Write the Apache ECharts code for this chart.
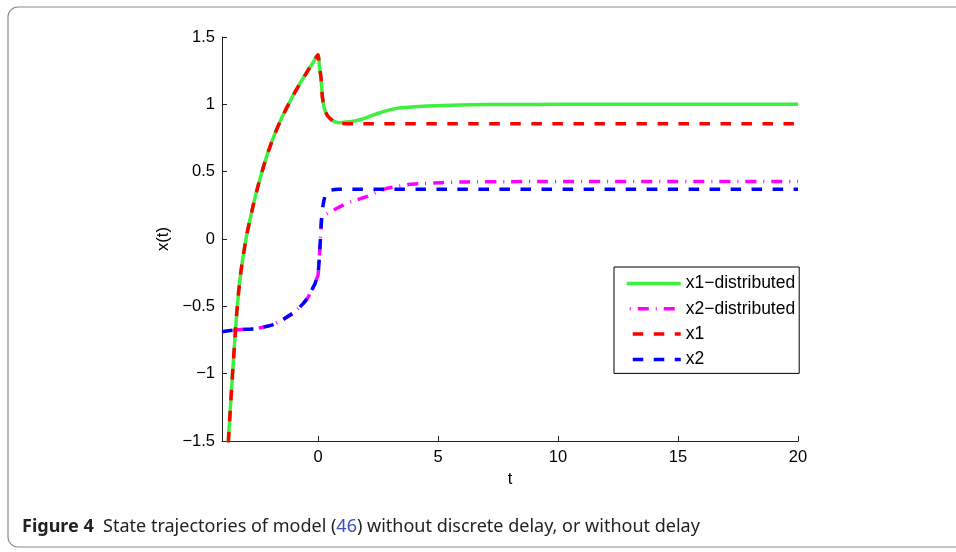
<!DOCTYPE html>
<html>
<head>
<meta charset="utf-8">
<script src="https://cdn.jsdelivr.net/npm/echarts@6/dist/echarts.min.js"></script>
<style>
  html, body { margin: 0; padding: 0; background: #fff; }
  #chart { width: 956px; height: 552px; }
</style>
</head>
<body>
<div id="chart"></div>
<script>
// State trajectories: time samples and values for each state component
const seriesNames = ['x1\u2212distributed', 'x2\u2212distributed', 'x1', 'x2'];

// x1 with distributed delay (solid green)
const tX1dist = [-4, -3.85, -3.74, -3.67, -3.6, -3.53, -3.46, -3.39, -3.3, -3.18, -3.0, -2.9, -2.7, -2.49, -2.25, -2.07, -1.8, -1.51, -1.2, -0.96, -0.7, -0.4, -0.2, 0, 0.06, 0.125, 0.18, 0.24, 0.29, 0.38, 0.5, 0.65, 0.85, 1.0, 1.3, 1.6, 2.0, 2.45, 2.9, 3.28, 3.9, 4.53, 5.2, 5.92, 7, 8, 10, 20];
const vX1dist = [-2.6, -1.9, -1.52, -1.31, -1.11, -0.92, -0.73, -0.56, -0.38, -0.2, 0, 0.09, 0.25, 0.4, 0.55, 0.65, 0.78, 0.9, 1.01, 1.09, 1.17, 1.257, 1.312, 1.368, 1.28, 1.2, 1.06, 0.99, 0.955, 0.92, 0.895, 0.875, 0.864, 0.865, 0.87, 0.879, 0.9, 0.93, 0.955, 0.97, 0.98, 0.987, 0.992, 0.995, 0.998, 0.999, 1.0, 1.0];

// x2 with distributed delay (magenta dash-dot)
const tX2dist = [-4, -3.46, -3.0, -2.63, -2.3, -1.93, -1.65, -1.375, -0.96, -0.61, -0.4, -0.26, -0.12, -0.05, 0, 0.05, 0.1, 0.15, 0.2, 0.36, 0.6, 1.05, 1.5, 2.03, 2.4, 2.86, 3.3, 3.83, 4.4, 5.08, 6.2, 8, 20];
const vX2dist = [-0.688, -0.676, -0.67, -0.668, -0.655, -0.639, -0.617, -0.589, -0.54, -0.478, -0.43, -0.379, -0.33, -0.292, -0.27, -0.15, 0.0, 0.15, 0.165, 0.185, 0.21, 0.252, 0.285, 0.314, 0.345, 0.376, 0.39, 0.406, 0.412, 0.418, 0.424, 0.426, 0.427];

// x1 without delay (red dashed)
const tX1 = [-4, -3.85, -3.74, -3.67, -3.6, -3.53, -3.46, -3.39, -3.3, -3.18, -3.0, -2.9, -2.7, -2.49, -2.25, -2.07, -1.8, -1.51, -1.2, -0.96, -0.7, -0.4, -0.2, 0, 0.06, 0.125, 0.18, 0.24, 0.29, 0.38, 0.5, 0.65, 0.85, 1.0, 1.5, 20];
const vX1 = [-2.6, -1.9, -1.52, -1.31, -1.11, -0.92, -0.73, -0.56, -0.38, -0.2, 0, 0.09, 0.25, 0.4, 0.55, 0.65, 0.78, 0.9, 1.01, 1.09, 1.17, 1.257, 1.312, 1.368, 1.28, 1.2, 1.06, 0.99, 0.955, 0.92, 0.895, 0.875, 0.864, 0.858, 0.856, 0.856];

// x2 without delay (blue dashed)
const tX2 = [-4, -3.46, -3.0, -2.63, -2.3, -1.93, -1.65, -1.375, -0.96, -0.61, -0.4, -0.26, -0.12, -0.05, 0, 0.05, 0.1, 0.15, 0.2, 0.28, 0.36, 0.5, 0.7, 0.85, 20];
const vX2 = [-0.688, -0.676, -0.67, -0.668, -0.655, -0.639, -0.617, -0.589, -0.54, -0.478, -0.43, -0.379, -0.33, -0.292, -0.27, -0.15, 0.0, 0.15, 0.24, 0.31, 0.345, 0.36, 0.367, 0.369, 0.37];

// Axis ticks
const xTicks = [0, 5, 10, 15, 20];
const yTicks = [-1.5, -1, -0.5, 0, 0.5, 1, 1.5];

const captionBold = 'Figure 4';
const captionText = 'State trajectories of model (';
const captionRef = '46';
const captionTail = ') without discrete delay, or without delay';

function pairs(ts, vs) {
  return ts.map((t, i) => [t, vs[i]]);
}

function fmtNum(v) {
  const s = String(Math.abs(v));
  return v < 0 ? '\u2212' + s : s;
}

const FONT = '"Liberation Sans", Arial, Helvetica, sans-serif';
const CAP_FONT = '"Noto Sans", "Open Sans", sans-serif';
const LW = 3.5;

const chart = echarts.init(document.getElementById('chart'), null, { renderer: 'canvas' });

chart.setOption({
  animation: false,
  backgroundColor: '#ffffff',
  grid: { left: 222, top: 37, right: 158, bottom: 111, containLabel: false },
  xAxis: {
    type: 'value',
    min: -4,
    max: 20,
    name: 't',
    nameLocation: 'middle',
    nameGap: 30,
    nameTextStyle: { fontFamily: FONT, fontSize: 16.5, color: '#000' },
    axisLine: { onZero: false, lineStyle: { color: '#222', width: 1 } },
    axisTick: { inside: true, length: 5, customValues: xTicks, lineStyle: { color: '#222' } },
    axisLabel: { customValues: xTicks, margin: 8, fontFamily: FONT, fontSize: 16.5, color: '#000', formatter: fmtNum },
    splitLine: { show: false }
  },
  yAxis: {
    type: 'value',
    min: -1.5,
    max: 1.5,
    interval: 0.5,
    name: 'x(t)',
    nameLocation: 'middle',
    nameGap: 41,
    nameRotate: 90,
    nameTextStyle: { fontFamily: FONT, fontSize: 16.5, color: '#000' },
    axisLine: { show: true, onZero: false, lineStyle: { color: '#222', width: 1 } },
    axisTick: { show: true, inside: true, length: 5, customValues: yTicks, lineStyle: { color: '#222' } },
    axisLabel: { customValues: yTicks, margin: 7, fontFamily: FONT, fontSize: 16.5, color: '#000', formatter: fmtNum },
    splitLine: { show: false }
  },
  legend: {
    orient: 'vertical',
    left: 614,
    top: 267,
    padding: [7.5, 4, 5, 11],
    itemWidth: 54,
    itemHeight: 17,
    itemGap: 7.3,
    borderColor: '#000',
    borderWidth: 1,
    borderRadius: 0,
    backgroundColor: '#fff',
    itemStyle: { opacity: 0 },
    lineStyle: { width: LW },
    textStyle: { fontFamily: FONT, fontSize: 17.5, color: '#000' },
    data: seriesNames
  },
  series: [
    {
      name: seriesNames[0], type: 'line', data: pairs(tX1dist, vX1dist),
      showSymbol: false, symbol: 'none', clip: true, smooth: 0.2,
      lineStyle: { color: '#3ef03e', width: LW, type: 'solid' },
      itemStyle: { color: '#3ef03e' }
    },
    {
      name: seriesNames[1], type: 'line', data: pairs(tX2dist, vX2dist),
      showSymbol: false, symbol: 'none', clip: true, smooth: 0.2,
      lineStyle: { color: '#ff00ff', width: LW, type: [11, 7, 1, 7], dashOffset: 15 },
      itemStyle: { color: '#ff00ff' }
    },
    {
      name: seriesNames[2], type: 'line', data: pairs(tX1, vX1),
      showSymbol: false, symbol: 'none', clip: true, smooth: 0.2,
      lineStyle: { color: '#ff0000', width: LW, type: [10.5, 10.5] },
      itemStyle: { color: '#ff0000' }
    },
    {
      name: seriesNames[3], type: 'line', data: pairs(tX2, vX2),
      showSymbol: false, symbol: 'none', clip: true, smooth: 0.2,
      lineStyle: { color: '#0000ff', width: LW, type: [10.5, 10.5] },
      itemStyle: { color: '#0000ff' }
    }
  ],
  graphic: [
    {
      type: 'rect',
      silent: true,
      shape: { x: 8, y: 7, width: 1000, height: 540, r: 10 },
      style: { fill: 'none', stroke: '#8a8a8a', lineWidth: 1.2 },
      z: -1
    },
    {
      type: 'text',
      left: 22,
      top: 518,
      style: {
        text: '{b|' + captionBold + '}  ' + captionText + '{a|' + captionRef + '}' + captionTail,
        fontFamily: CAP_FONT,
        fontSize: 18,
        fill: '#222',
        rich: {
          b: { fontFamily: CAP_FONT, fontSize: 18, fontWeight: 'bold', fill: '#222' },
          a: { fontFamily: CAP_FONT, fontSize: 18, fill: '#3b4fc4' }
        }
      }
    }
  ]
});
</script>
</body>
</html>
